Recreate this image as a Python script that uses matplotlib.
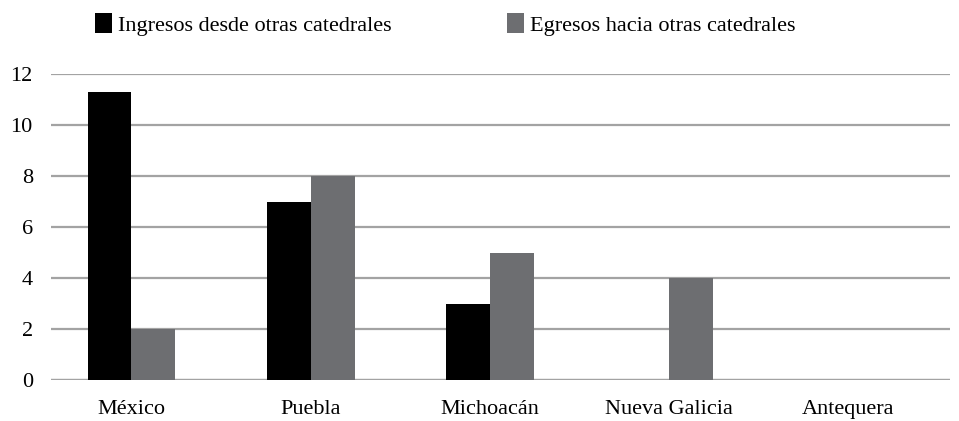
"""
Bar chart: clergy moving between cathedral chapters of New Spain.
Saves the figure to out.png.
"""

import matplotlib.pyplot as plt
import numpy as np
from matplotlib.patches import Patch


OUTPUT_PATH = "out.png"

catedrales = ["México", "Puebla", "Michoacán", "Nueva Galicia", "Antequera"]
ingresos = [11.3, 7, 3, 0, 0]
egresos = [2, 8, 5, 4, 0]
y_ticks = [0, 2, 4, 6, 8, 10, 12]

label_ingresos = "Ingresos desde otras catedrales"
label_egresos = "Egresos hacia otras catedrales"

BLACK = "#000000"
GRAY = "#6d6e71"
GRID = "#a3a3a3"


def main():
    plt.rcParams["font.family"] = ["Liberation Serif", "DejaVu Serif"]

    fig = plt.figure(figsize=(9.59, 4.21), dpi=100)
    ax = fig.add_axes([0.053, 0.097, 0.938, 0.727])

    x = np.arange(len(catedrales))
    width = 0.245

    ax.bar(x - width / 2, ingresos, width, color=BLACK, zorder=3)
    ax.bar(x + width / 2, egresos, width, color=GRAY, zorder=3)

    # Horizontal gray rules instead of a frame.
    ax.set_ylim(0, 12)
    ax.set_xlim(-0.45, 4.57)
    ax.set_yticks(y_ticks)
    ax.yaxis.grid(True, color=GRID, linewidth=1.6, zorder=0)
    ax.axhline(0, color=GRID, linewidth=1.6, zorder=1)
    for spine in ax.spines.values():
        spine.set_visible(False)

    ax.set_xticks(x)
    ax.set_xticklabels(catedrales)
    ax.tick_params(axis="x", length=0, pad=14, labelsize=16)
    ax.tick_params(axis="y", length=0, pad=13, labelsize=16)

    handles = [
        Patch(facecolor=BLACK, label=label_ingresos),
        Patch(facecolor=GRAY, label=label_egresos),
    ]
    fig.legend(
        handles=handles,
        loc="upper left",
        bbox_to_anchor=(0.099, 0.968),
        borderaxespad=0,
        borderpad=0,
        ncol=2,
        frameon=False,
        fontsize=16,
        handlelength=0.77,
        handleheight=1.0,
        handletextpad=0.27,
        columnspacing=5.2,
    )

    fig.savefig(OUTPUT_PATH, dpi=100)
    plt.close(fig)


if __name__ == "__main__":
    main()
